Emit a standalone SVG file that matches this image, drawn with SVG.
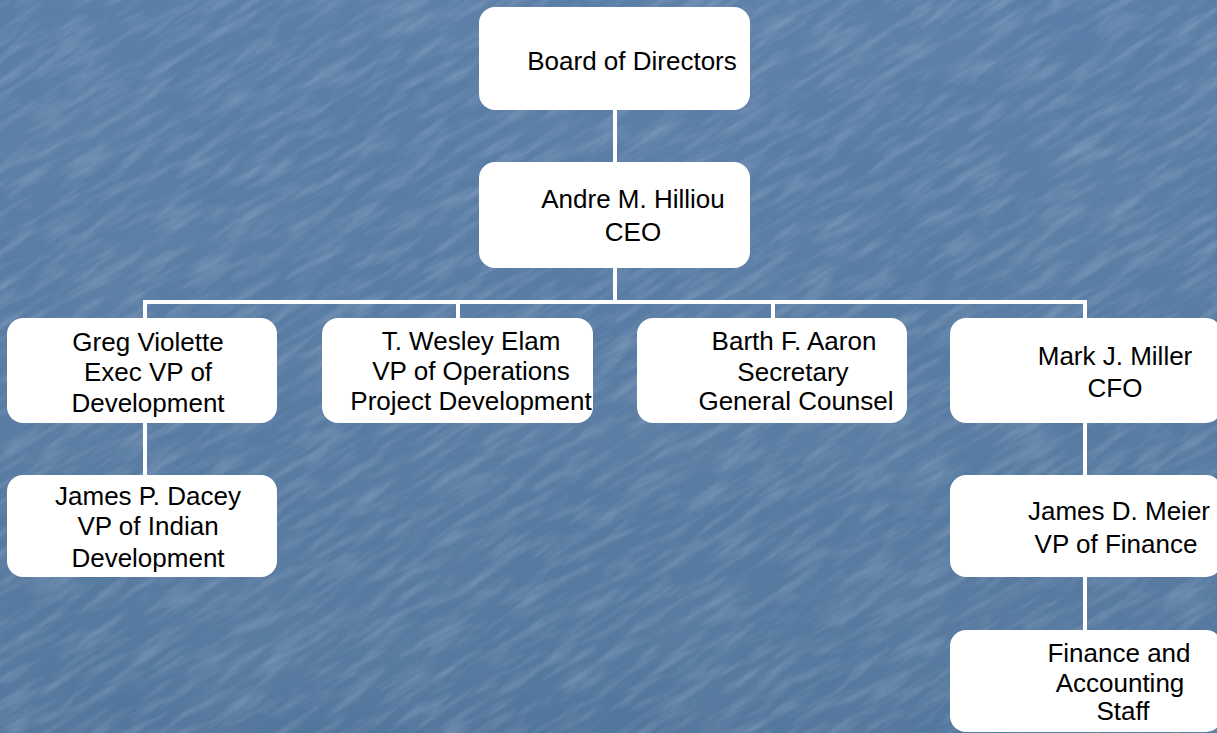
<svg xmlns="http://www.w3.org/2000/svg" width="1217" height="733" viewBox="0 0 1217 733">
  <style>
    .box { fill: #ffffff; }
    .lbl { font-family: "Liberation Sans", Arial, sans-serif; font-size: 26px; fill: #000000; text-anchor: middle; }
    .wire { stroke: #ffffff; stroke-width: 4; fill: none; }
  </style>
  <defs>
    <!-- fine diagonal scratch texture for the backdrop -->
    <filter id="streaks" filterUnits="userSpaceOnUse" x="-400" y="-500" width="2000" height="1700">
      <feTurbulence type="fractalNoise" baseFrequency="0.02 0.11" numOctaves="4" seed="11"/>
      <feColorMatrix type="matrix" values="0 0 0 0 0.85  0 0 0 0 0.9  0 0 0 0 1  0 0 0 1.5 -0.62"/>
    </filter>
    <!-- soft blotches -->
    <filter id="mottle" filterUnits="userSpaceOnUse" x="0" y="0" width="1217" height="733">
      <feTurbulence type="fractalNoise" baseFrequency="0.006 0.01" numOctaves="2" seed="3"/>
      <feColorMatrix type="matrix" values="0 0 0 0 0.2  0 0 0 0 0.3  0 0 0 0 0.45  0 0 0 1.2 -0.45"/>
    </filter>
    <linearGradient id="bgShade" x1="0" y1="0" x2="0" y2="1">
      <stop offset="0" stop-color="#5a7ea7"/>
      <stop offset="0.9" stop-color="#56799f"/>
      <stop offset="1" stop-color="#52759c"/>
    </linearGradient>
  </defs>

  <!-- background -->
  <rect x="0" y="0" width="1217" height="733" fill="url(#bgShade)"/>
  <rect x="0" y="0" width="1217" height="733" filter="url(#mottle)" opacity="0.3"/>
  <g transform="rotate(-32 608 366)" opacity="0.25">
    <rect x="-400" y="-500" width="2000" height="1700" filter="url(#streaks)"/>
  </g>

  <!-- connectors -->
  <g id="connectors" class="wire">
    <line x1="615" y1="110" x2="615" y2="162"/>
    <line x1="615" y1="268" x2="615" y2="302"/>
    <line x1="143" y1="302" x2="1087" y2="302"/>
    <line x1="145" y1="300" x2="145" y2="318"/>
    <line x1="458" y1="300" x2="458" y2="318"/>
    <line x1="773" y1="300" x2="773" y2="318"/>
    <line x1="1085" y1="300" x2="1085" y2="318"/>
    <line x1="145" y1="423" x2="145" y2="475"/>
    <line x1="1085" y1="423" x2="1085" y2="475"/>
    <line x1="1085" y1="577" x2="1085" y2="630"/>
  </g>

  <g id="board">
    <rect class="box" x="479" y="7" width="271" height="103" rx="16"/>
    <text class="lbl" x="632" y="70">Board of Directors</text>
  </g>

  <g id="ceo">
    <rect class="box" x="479" y="162" width="271" height="106" rx="16"/>
    <text class="lbl" x="633" y="208">Andre M. Hilliou</text>
    <text class="lbl" x="633" y="241">CEO</text>
  </g>

  <g id="exec-vp-development">
    <rect class="box" x="7" y="318" width="270" height="105" rx="16"/>
    <text class="lbl" x="148" y="351">Greg Violette</text>
    <text class="lbl" x="148" y="381">Exec VP of</text>
    <text class="lbl" x="148" y="412">Development</text>
  </g>

  <g id="vp-operations">
    <rect class="box" x="322" y="318" width="271" height="105" rx="16"/>
    <text class="lbl" x="471" y="350">T. Wesley Elam</text>
    <text class="lbl" x="471" y="380">VP of Operations</text>
    <text class="lbl" x="471" y="410">Project Development</text>
  </g>

  <g id="secretary">
    <rect class="box" x="637" y="318" width="270" height="105" rx="16"/>
    <text class="lbl" x="794" y="350">Barth F. Aaron</text>
    <text class="lbl" x="793" y="381">Secretary</text>
    <text class="lbl" x="796" y="410">General Counsel</text>
  </g>

  <g id="cfo">
    <rect class="box" x="950" y="318" width="272" height="105" rx="16"/>
    <text class="lbl" x="1115" y="365">Mark J. Miller</text>
    <text class="lbl" x="1115" y="397">CFO</text>
  </g>

  <g id="vp-indian-development">
    <rect class="box" x="7" y="475" width="270" height="102" rx="16"/>
    <text class="lbl" x="148" y="505">James P. Dacey</text>
    <text class="lbl" x="148" y="535">VP of Indian</text>
    <text class="lbl" x="148" y="567">Development</text>
  </g>

  <g id="vp-finance">
    <rect class="box" x="950" y="475" width="272" height="102" rx="16"/>
    <text class="lbl" x="1119" y="520">James D. Meier</text>
    <text class="lbl" x="1116" y="553">VP of Finance</text>
  </g>

  <g id="finance-staff">
    <rect class="box" x="950" y="630" width="272" height="102" rx="16"/>
    <text class="lbl" x="1119" y="662">Finance and</text>
    <text class="lbl" x="1120" y="692">Accounting</text>
    <text class="lbl" x="1123" y="720">Staff</text>
  </g>
</svg>
